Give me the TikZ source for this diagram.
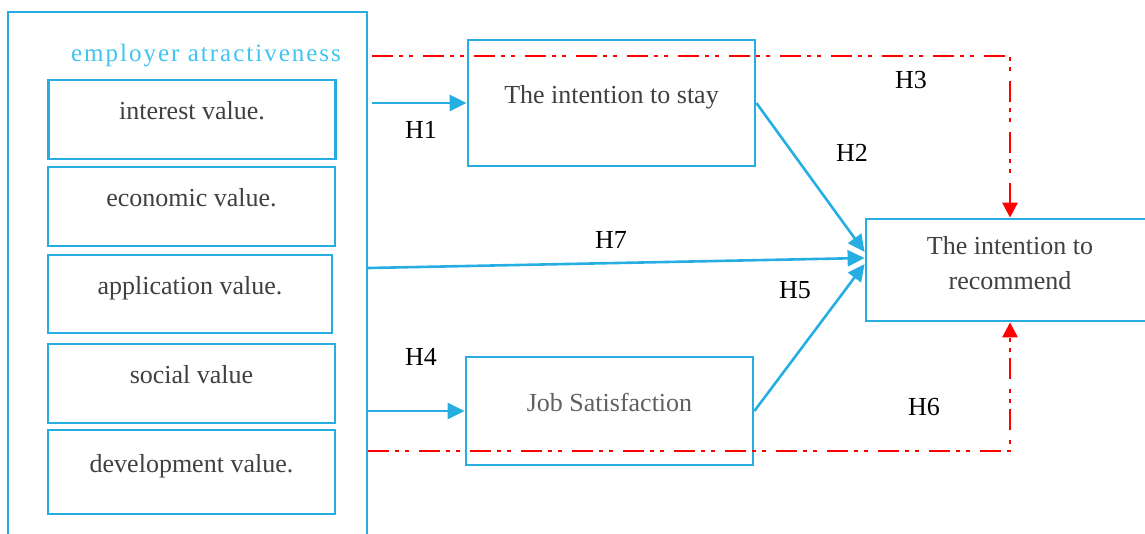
\documentclass[tikz,border=0pt]{standalone}
\usepackage{fontspec}
\setmainfont{Liberation Serif}
\usetikzlibrary{arrows.meta}

\definecolor{frameblue}{RGB}{38,174,227}
\definecolor{titleblue}{RGB}{64,196,240}
\definecolor{textgray}{RGB}{64,64,64}
\definecolor{lightgray}{RGB}{96,96,96}

\begin{document}
\begin{tikzpicture}[x=1pt, y=-1pt, font=\fontsize{26}{35}\selectfont,
		valuebox/.style={draw=frameblue, line width=2.8pt, text=textgray, inner sep=0pt,
			minimum width=287pt, minimum height=79pt},
		midtext/.style={text height=16pt, text depth=16pt},
		hyp/.style={draw=frameblue, line width=2.6pt, -{Triangle[length=17pt,width=16pt]}},
		redhyp/.style={draw=red, line width=2.8pt, dash pattern=on 21pt off 6pt on 4pt off 6pt on 4pt off 10pt,
			-{Triangle[length=15pt,width=15pt]}}]
		\useasboundingbox (0,0) rectangle (1145,533);

		% Employer attractiveness block
		\node[draw=frameblue, line width=2.4pt, inner sep=0pt, minimum width=359pt, minimum height=560pt] (attract) at (187.5,292) {};
		\node[text=titleblue, font=\fontsize{25}{30}\selectfont\addfontfeatures{LetterSpace=8}] (title) at (206,56) {employer atractiveness};
		\node[valuebox, midtext] (interest) at (192,119.5) {interest value.};
		\node[valuebox, midtext] (economic) at (191.5,206.5) {economic value.};
		\node[valuebox, midtext, minimum width=284pt, minimum height=78pt] (application) at (190,294) {application value.};
		\node[valuebox, midtext] (social) at (191.5,383.5) {social value};
		\node[valuebox, midtext, minimum height=84pt] (development) at (191.5,472) {development value.};

		% Outcome boxes
		\node[valuebox, midtext, minimum height=126pt] (stay) at (611.5,103) {The intention to stay};
		\node[valuebox, midtext, minimum height=108pt, text=lightgray] (jobsat) at (609.5,411) {Job Satisfaction};
		\node[valuebox, minimum width=288pt, minimum height=102pt, align=center, text depth=15pt] (recommend) at (1010,270) {The intention to\\recommend};

		% Hypotheses
		\draw[hyp] ([xshift=4pt]stay.west -| attract.east) -- (stay.west);
		\draw[hyp] (jobsat.west -| attract.east) -- (jobsat.west);
		\draw[hyp] ([yshift=24pt]attract.east) -- ([yshift=12pt]recommend.west);
		\draw[hyp] (stay.east) -- ([yshift=18pt]recommend.west);
		\draw[hyp] (jobsat.east) -- ([yshift=6pt]recommend.west);
		\draw[redhyp] ([xshift=4pt]title.east -| attract.east) -| (recommend.north);
		\draw[redhyp] ([yshift=-159pt]attract.east) -| (recommend.south);

		% Label hypotheses
		\node (h1) at (421,130) {H1};
		\node (h2) at (852,153) {H2};
		\node (h3) at (911,80) {H3};
		\node (h4) at (421,357) {H4};
		\node (h5) at (795,290) {H5};
		\node (h6) at (924,407) {H6};
		\node (h7) at (611,240) {H7};
	\end{tikzpicture}
\end{document}
